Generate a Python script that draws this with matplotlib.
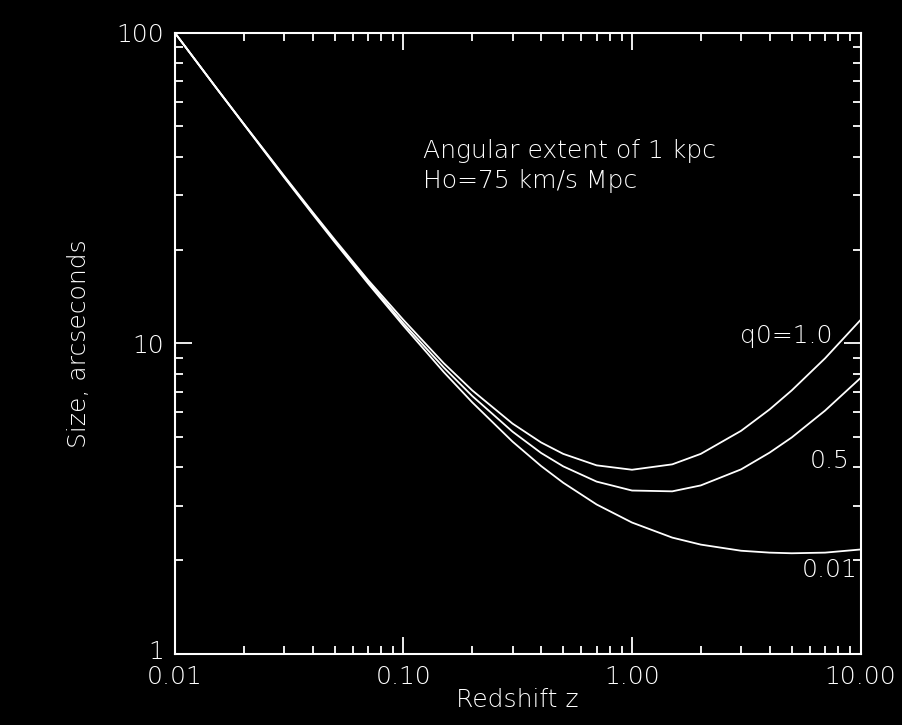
import matplotlib
matplotlib.use("Agg")
import matplotlib.pyplot as plt
from matplotlib.ticker import FixedLocator, NullFormatter, LogLocator
from matplotlib.transforms import ScaledTranslation

# Data
redshift = [0.01, 0.015, 0.02, 0.03, 0.04, 0.05, 0.07, 0.1, 0.15, 0.2, 0.3, 0.4,
            0.5, 0.7, 1.0, 1.5, 2.0, 3.0, 4.0, 5.0, 7.0, 10.0]
size_q1 = [100, 67.3, 51.0, 34.7, 26.5, 21.6, 16.0, 11.9, 8.64, 7.06, 5.52, 4.80,
           4.41, 4.05, 3.92, 4.08, 4.41, 5.23, 6.13, 7.06, 8.96, 11.9]
size_q05 = [100, 67.2, 50.9, 34.5, 26.3, 21.4, 15.8, 11.6, 8.37, 6.77, 5.20, 4.44,
            4.02, 3.59, 3.36, 3.34, 3.49, 3.93, 4.45, 4.98, 6.08, 7.74]
size_q001 = [100, 67.2, 50.8, 34.3, 26.1, 21.2, 15.6, 11.4, 8.09, 6.46, 4.83, 4.03,
             3.56, 3.03, 2.65, 2.37, 2.25, 2.15, 2.12, 2.11, 2.12, 2.17]

x_ticks = [0.01, 0.1, 1.0, 10.0]
x_tick_labels = ["0.01", "0.10", "1.00", "10.00"]
y_ticks = [1, 10, 100]
y_tick_labels = ["1", "10", "100"]

curve_labels = ["q0=1.0", "0.5", "0.01"]
annotation = ["Angular extent of 1 kpc", "Ho=75 km/s Mpc"]

FONT = dict(family=["DejaVu Sans"], weight="light")
FS = 18

fig = plt.figure(figsize=(9.02, 7.25), dpi=100, facecolor="black")
ax = fig.add_axes([0.194, 0.098, 0.760, 0.8565])
ax.set_facecolor("black")

for s in (size_q1, size_q05, size_q001):
    ax.plot(redshift, s, color="white", lw=1.3)

ax.set_xscale("log")
ax.set_yscale("log")
ax.set_xlim(0.01, 10)
ax.set_ylim(1, 100)

for sp in ax.spines.values():
    sp.set_color("white")
    sp.set_linewidth(1.5)

ax.xaxis.set_major_locator(FixedLocator(x_ticks))
ax.set_xticklabels(x_tick_labels)
ax.yaxis.set_major_locator(FixedLocator(y_ticks))
ax.set_yticklabels(y_tick_labels)
ax.xaxis.set_minor_locator(LogLocator(base=10, subs=range(2, 10)))
ax.yaxis.set_minor_locator(LogLocator(base=10, subs=range(2, 10)))
ax.xaxis.set_minor_formatter(NullFormatter())
ax.yaxis.set_minor_formatter(NullFormatter())

ax.tick_params(which="both", direction="in", colors="white", top=True, right=True, width=1.3)
ax.tick_params(which="major", length=12)
ax.tick_params(which="minor", length=6)
ax.tick_params(axis="x", which="major", pad=8)
ax.tick_params(axis="y", which="major", pad=8)
for lab in ax.get_xticklabels() + ax.get_yticklabels():
    lab.set_fontsize(FS)
    lab.set_family(FONT["family"])
    lab.set_weight(FONT["weight"])

# lift the bottom y label "1" slightly, as in the reference
t0 = ax.yaxis.get_major_ticks()[0].label1
t0.set_transform(t0.get_transform() + ScaledTranslation(0, 4 / 100, fig.dpi_scale_trans))

ax.set_xlabel("Redshift z", color="white", fontsize=FS, labelpad=-1, **FONT)
ax.set_ylabel("Size, arcseconds", color="white", fontsize=FS, labelpad=18, **FONT)

ax.text(0.1216, 39.6, annotation[0], color="white", fontsize=FS, va="baseline", ha="left", **FONT)
ax.text(0.1216, 31.7, annotation[1], color="white", fontsize=FS, va="baseline", ha="left", **FONT)

ax.text(2.97, 10.0, curve_labels[0], color="white", fontsize=FS, va="baseline", ha="left", **FONT)
ax.text(6.0, 3.96, curve_labels[1], color="white", fontsize=FS, va="baseline", ha="left", **FONT)
ax.text(5.55, 1.77, curve_labels[2], color="white", fontsize=FS, va="baseline", ha="left", **FONT)

fig.savefig("out.png", dpi=100, facecolor="black")
